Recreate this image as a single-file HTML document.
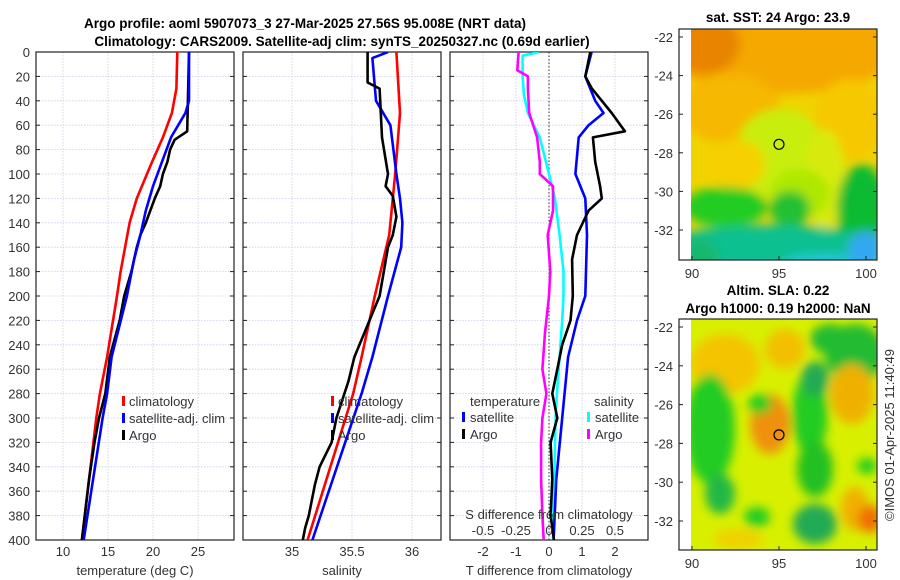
<!DOCTYPE html>
<html><head><meta charset="utf-8"><style>
html,body{margin:0;padding:0;background:#fff;width:900px;height:580px;overflow:hidden}
svg{display:block;font-family:"Liberation Sans","DejaVu Sans",sans-serif}
.tk{font-size:13px;fill:#333}
.tt{font-size:13.5px;font-weight:bold;fill:#000}
</style></head><body>
<svg id="s" width="900" height="580" viewBox="0 0 900 580" xmlns="http://www.w3.org/2000/svg">
<defs>
<filter id="bl1" x="-50%" y="-50%" width="200%" height="200%"><feGaussianBlur stdDeviation="5"/></filter>
<filter id="bl2" x="-50%" y="-50%" width="200%" height="200%"><feGaussianBlur stdDeviation="5"/></filter>
<clipPath id="c1"><rect x="691" y="29" width="186" height="231"/></clipPath>
<clipPath id="c2"><rect x="691" y="319" width="186" height="231"/></clipPath>
<clipPath id="p1"><rect x="36" y="52" width="198" height="488"/></clipPath>
<clipPath id="p2"><rect x="243" y="52" width="198" height="488"/></clipPath>
<clipPath id="p3"><rect x="450" y="52" width="198" height="488"/></clipPath>
</defs>
<text class="tt" x="305" y="28" text-anchor="middle">Argo profile: aoml 5907073_3 27-Mar-2025 27.56S 95.008E (NRT data)</text>
<text class="tt" x="342" y="46" text-anchor="middle">Climatology: CARS2009. Satellite-adj clim: synTS_20250327.nc (0.69d earlier)</text>
<g id="g"></g>
<text class="tt" x="778" y="22" text-anchor="middle">sat. SST: 24 Argo: 23.9</text>
<text class="tt" x="778" y="295" text-anchor="middle">Altim. SLA: 0.22</text>
<text class="tt" x="778" y="313" text-anchor="middle">Argo h1000: 0.19 h2000: NaN</text>
<text class="tk" transform="translate(894,435) rotate(-90)" text-anchor="middle">©IMOS 01-Apr-2025 11:40:49</text>
</svg>
<script>
// ---- data ----
const depthTicks=[0,20,40,60,80,100,120,140,160,180,200,220,240,260,280,300,320,340,360,380,400];
const tempTicks=[10,15,20,25];
const salTicks=[35,35.5,36];
const tdiffTicks=[-2,-1,0,1,2];
const sdiffTickLabels=["-0.5","-0.25","0","0.25","0.5"];
const sdiffTicks=[-0.5,-0.25,0,0.25,0.5];

const climTempDepth=[0,30,50,70,90,120,140,160,180,200,250,280,300,400];
const climTemp=[22.7,22.6,22.1,21.1,19.9,18.2,17.4,16.9,16.4,16.0,14.9,14.1,13.7,12.1];
const satTempDepth=[0,40,50,60,70,90,110,130,150,170,200,250,280,300,400];
const satTemp=[24.0,24.0,23.6,22.8,22.0,21.0,20.0,19.2,18.6,17.9,17.1,15.4,14.9,14.4,12.3];
const argoTempDepth=[0,65,72,80,90,100,110,120,130,140,150,160,170,180,200,220,250,280,300,320,350,400];
const argoTemp=[24.0,23.8,22.4,21.9,21.6,21.1,20.8,20.2,19.7,19.2,18.6,18.2,17.9,17.6,16.8,16.3,15.2,14.7,14.0,13.5,12.9,12.1];

const climSalDepth=[0,50,100,120,150,200,250,280,400];
const climSal=[35.87,35.9,35.86,35.84,35.81,35.69,35.58,35.51,35.13];
const satSalDepth=[0,5,40,60,100,120,140,160,200,250,280,400];
const satSal=[35.8,35.67,35.7,35.82,35.87,35.9,35.92,35.91,35.8,35.67,35.58,35.17];
const argoSalDepth=[0,25,30,70,100,110,118,135,150,160,200,250,270,300,320,340,355,380,390,400];
const argoSal=[35.63,35.63,35.73,35.75,35.8,35.78,35.84,35.87,35.84,35.8,35.73,35.52,35.47,35.37,35.33,35.23,35.19,35.14,35.11,35.09];

const satTdiffDepth=[0,20,40,50,60,70,100,120,150,200,220,250,300,350,400];
const satTdiff=[1.29,1.1,1.4,1.65,1.2,0.9,0.8,1.1,1.15,1.1,0.85,0.58,0.4,0.22,0.14];
const argoTdiffDepth=[0,20,30,50,65,70,90,110,120,130,150,170,200,220,240,260,280,300,320,350,380,400];
const argoTdiff=[1.25,1.1,1.3,1.9,2.3,1.33,1.4,1.55,1.6,1.2,0.85,0.7,0.72,0.65,0.4,0.25,0.1,0.25,0.05,0.1,0.05,0.15];
const satSdiffDepth=[0,3,20,35,50,70,100,120,150,180,200,220,250,280,300,350,400];
const satSdiff=[-0.075,-0.2,-0.2,-0.19,-0.16,-0.07,0,0.045,0.08,0.11,0.11,0.1,0.08,0.06,0.05,0.04,0.03];
const argoSdiffDepth=[0,15,20,30,50,70,90,100,110,130,150,180,200,230,260,280,300,320,350,380,400];
const argoSdiff=[-0.23,-0.24,-0.16,-0.16,-0.15,-0.09,-0.07,-0.07,0.03,0.03,-0.01,0.01,0,-0.03,-0.05,-0.02,-0.05,-0.06,-0.06,-0.05,-0.04];

// ---- axes ----
const top0=52, bot=540;
const yD=d=>top0+d*(bot-top0)/400;
const xT=t=>63+(t-10)*9;
const xS=s=>292+(s-35)*120;
const xTd=t=>549+t*33;
const xSd=s=>549+s*132;

const NS='http://www.w3.org/2000/svg';
const G=document.getElementById('g');
function mk(tag,attrs,parent){const e=document.createElementNS(NS,tag);for(const k in attrs)e.setAttribute(k,attrs[k]);(parent||G).appendChild(e);return e;}

function panel(x0,name,xTicks,xf,labels){
  const g=mk('g',{});
  
  
  for(const d of depthTicks){const y=yD(d);
    const l=mk('line',{x1:x0,x2:x0+198,y1:y,y2:y,stroke:'#c8cce8','stroke-width':0.8,'stroke-dasharray':'1.5,1.5'},g);
    
    
    mk('line',{x1:x0,x2:x0+4,y1:y,y2:y,stroke:'#222','stroke-width':1},g);
    mk('line',{x1:x0+194,x2:x0+198,y1:y,y2:y,stroke:'#222','stroke-width':1},g);
  }
  xTicks.forEach((t,i)=>{const x=xf(t);
    const l=mk('line',{x1:x,x2:x,y1:top0,y2:bot,stroke:'#c8cce8','stroke-width':0.8,'stroke-dasharray':'1.5,1.5'},g);
    
    
    if(labels){const tx=mk('text',{x:x,y:556,'text-anchor':'middle',class:'tk'},g);tx.textContent=labels[i];
      
      }
  });
  const r=mk('rect',{x:x0,y:top0,width:198,height:bot-top0,fill:'none',stroke:'#222','stroke-width':1.2},g);
  
  
  return g;
}
function line(xf,xs,ds,col,clip,name){
  let p='';xs.forEach((v,i)=>{p+=(i?'L':'M')+xf(v).toFixed(1)+','+yD(ds[i]).toFixed(1);});
  const e=mk('path',{d:p,fill:'none',stroke:col,'stroke-width':2.6,'stroke-linejoin':'round','clip-path':'url(#'+clip+')'});
  
  
}
function txt(x,y,s,name,anchor,cls){const t=mk('text',{x:x,y:y,class:cls||'tk','text-anchor':anchor||'start'});t.textContent=s;
  
  return t;}
function mark(x,y,col,name){const r=mk('rect',{x:x,y:y-10,width:3,height:10,fill:col});
  
  }

panel(36,'temperature-panel',tempTicks,xT,tempTicks.map(String));
panel(243,'salinity-panel',salTicks,xS,salTicks.map(String));
panel(450,'difference-panel',tdiffTicks,xTd,tdiffTicks.map(String));
depthTicks.forEach(d=>txt(30,yD(d)+5,String(d),'depth-tick-label','end'));
const z=mk('line',{x1:xTd(0),x2:xTd(0),y1:top0,y2:bot,stroke:'#333','stroke-width':1,'stroke-dasharray':'1.5,2'});



line(xT,climTemp,climTempDepth,'#f00','p1','clim-temperature-line');
line(xT,argoTemp,argoTempDepth,'#000','p1','argo-temperature-line');
line(xT,satTemp,satTempDepth,'#00f','p1','satellite-temperature-line');
line(xS,climSal,climSalDepth,'#f00','p2','clim-salinity-line');
line(xS,satSal,satSalDepth,'#00f','p2','satellite-salinity-line');
line(xS,argoSal,argoSalDepth,'#000','p2','argo-salinity-line');
line(xSd,satSdiff,satSdiffDepth,'#0ff','p3','satellite-salinity-diff-line');
line(xSd,argoSdiff,argoSdiffDepth,'#f0f','p3','argo-salinity-diff-line');
line(xTd,satTdiff,satTdiffDepth,'#00f','p3','satellite-temperature-diff-line');
line(xTd,argoTdiff,argoTdiffDepth,'#000','p3','argo-temperature-diff-line');

txt(135,575,'temperature (deg C)','x-axis-title-temperature','middle');
txt(342,575,'salinity','x-axis-title-salinity','middle');
txt(549,575,'T difference from climatology','x-axis-title-tdiff','middle');
txt(549,519,'S difference from climatology','s-diff-axis-title','middle');
sdiffTicks.forEach((s,i)=>txt(xSd(s),535,sdiffTickLabels[i],'s-diff-tick-label','middle'));

[['climatology','#f00'],['satellite-adj. clim','#00f'],['Argo','#000']].forEach((e,i)=>{
  mark(122,406+i*17,e[1],'legend-marker');txt(129,406+i*17,e[0],'legend-entry');
  mark(331,406+i*17,e[1],'legend-marker');txt(338,406+i*17,e[0],'legend-entry');
});
txt(470,406,'temperature','legend-header-temperature');
txt(594,406,'salinity','legend-header-salinity');
mark(462,422,'#00f','legend-marker');txt(470,422,'satellite','legend-entry');
mark(462,439,'#000','legend-marker');txt(470,439,'Argo','legend-entry');
mark(587,422,'#0ff','legend-marker');txt(595,422,'satellite','legend-entry');
mark(587,439,'#f0f','legend-marker');txt(595,439,'Argo','legend-entry');

// ---- maps ----
const latTicks=[-22,-24,-26,-28,-30,-32];
const lonTicks=[90,95,100];
const lonX=l=>692+(l-90)*17.4;
function mapAxes(y0,yLat,name,clip,blobs,bg,filt){
  const g=mk('g',{});
  
  
  const ig=mk('g',{'clip-path':'url(#'+clip+')'},g);
  mk('rect',{x:691,y:y0,width:186,height:231,fill:bg},ig);
  const bg2=mk('g',{filter:'url(#'+filt+')'},ig);
  blobs.forEach(b=>mk('ellipse',{cx:b[0],cy:y0+b[1],rx:b[2],ry:b[3],fill:b[4]},bg2));
  const fr=mk('rect',{x:679,y:y0,width:198,height:231,fill:'none',stroke:'#222','stroke-width':1.2},g);
  
  
  latTicks.forEach(l=>{const y=yLat(l);
    mk('line',{x1:679,x2:683,y1:y,y2:y,stroke:'#222'},g);
    mk('line',{x1:873,x2:877,y1:y,y2:y,stroke:'#222'},g);
    txt(673,y+5,String(l),'lat-tick-label','end');});
  lonTicks.forEach(l=>{const x=lonX(l);
    mk('line',{x1:x,x2:x,y1:y0+231,y2:y0+227,stroke:'#222'},g);
    txt(x,y0+249,String(l),'lon-tick-label','middle');});
  const c=mk('circle',{cx:lonX(95),cy:yLat(-27.56),r:5,fill:'none',stroke:'#000','stroke-width':1.2},g);
  
  
}
const lat1=l=>37+(-22-l)*19.3;
const lat2=l=>327+(-22-l)*19.4;
mapAxes(29,lat1,'sst-map','c1',[
 [780,20,120,45,'#f5a800'],[705,15,35,30,'#e88400'],[730,80,50,35,'#f6b800'],
 [850,90,35,40,'#f6c800'],[780,125,45,45,'#c8ee10'],[735,135,30,25,'#f6d000'],
 [825,150,20,50,'#d8ea10'],[800,165,30,25,'#aee800'],
 [725,178,42,20,'#22cc22'],[862,180,25,45,'#11bb33'],[790,180,20,18,'#22c030'],
 [770,218,110,22,'#10c090'],[825,240,50,15,'#20c8d8'],[866,222,18,20,'#30a8f0'],[745,245,60,12,'#18c8b0'],[700,230,20,20,'#18b870']
],'#f0d400','bl1');
mapAxes(319,lat2,'sla-map','c2',[
 [725,45,35,30,'#f4c400'],[785,30,20,20,'#f2c000'],[855,35,30,30,'#22bb33'],[830,20,20,15,'#22bb33'],
 [710,110,25,55,'#22cc22'],[720,175,15,20,'#22b844'],[770,105,20,30,'#f09010'],
 [810,95,18,40,'#22cc22'],[815,60,14,18,'#22aa55'],[852,75,22,30,'#f0b000'],
 [815,150,18,28,'#22c022'],[855,190,14,22,'#f0b000'],[867,147,10,8,'#22cc22'],
 [815,205,22,20,'#22aa55'],[870,200,12,14,'#f07000'],[738,220,25,10,'#f0d000'],
 [760,85,12,10,'#22cc22'],[757,198,13,10,'#22cc22'],[720,255,20,8,'#22cc22']
],'#d8f000','bl2');
</script>
</body></html>
